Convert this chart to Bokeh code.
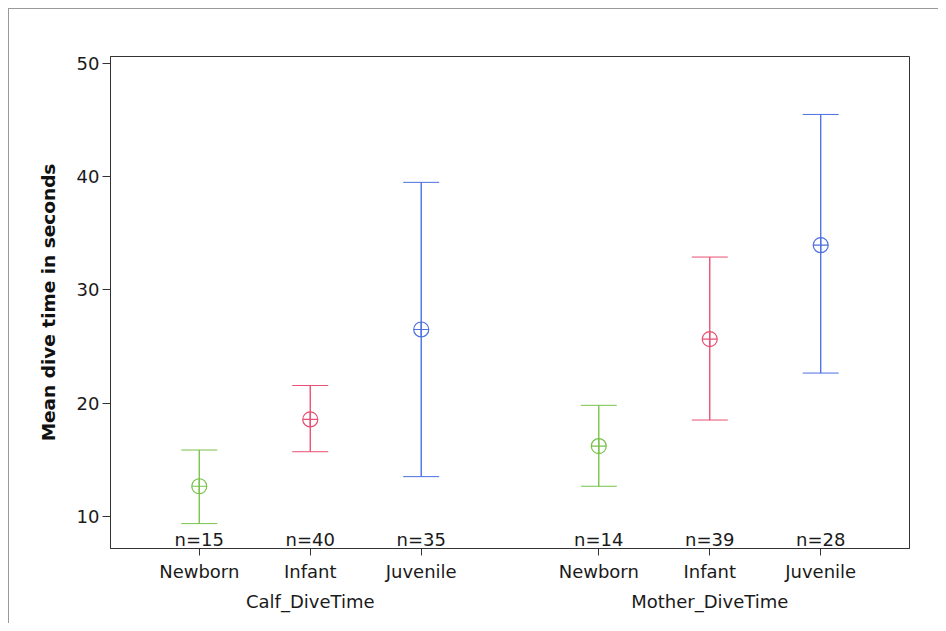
from bokeh.plotting import figure
from bokeh.models import FixedTicker, LinearAxis, Range1d, ColumnDataSource, Whisker
from bokeh.core.properties import value
from bokeh.embed import file_html
from bokeh.resources import INLINE

# ---- data ----
groups = ["Calf_DiveTime", "Mother_DiveTime"]
stages = ["Newborn", "Infant", "Juvenile", "Newborn", "Infant", "Juvenile"]
positions = [0, 1, 2, 3.6, 4.6, 5.6]
means = [12.65, 18.55, 26.5, 16.2, 25.65, 33.95]
lowers = [9.35, 15.7, 13.5, 12.65, 18.5, 22.65]
uppers = [15.85, 21.55, 39.5, 19.8, 32.9, 45.5]
counts = ["n=15", "n=40", "n=35", "n=14", "n=39", "n=28"]
colors = ["#78c24a", "#e84f72", "#4d6fe0", "#78c24a", "#e84f72", "#4d6fe0"]
group_centers = [1, 4.6]
y_ticks = [10, 20, 30, 40, 50]

FONT = "DejaVu Sans"

p = figure(width=930, height=615, output_backend="svg", toolbar_location=None,
           x_range=Range1d(-0.8, 6.4), y_range=Range1d(7.15, 50.62),
           min_border_left=101, min_border_right=30, min_border_top=47,
           min_border_bottom=76,
           styles={"border-left": "1px solid #999999", "border-top": "1px solid #999999",
                   "margin-left": "8px", "margin-top": "8px"})
p.grid.visible = False
p.outline_line_color = "#333333"
p.outline_line_width = 1
p.background_fill_color = "white"
p.border_fill_color = "white"

src = ColumnDataSource(dict(x=positions, mean=means, lo=lowers, hi=uppers,
                            n=counts, color=colors, ny=[7.15] * 6))

# vertical error lines
p.segment(x0="x", y0="lo", x1="x", y1="hi", source=src, line_color="color", line_width=1)
w = Whisker(base="x", lower="lo", upper="hi", source=src, dimension="height",
            line_color="color", line_width=1)
w.upper_head.size = 36
w.lower_head.size = 36
w.upper_head.line_color = "color"
w.lower_head.line_color = "color"
w.upper_head.line_width = 1
w.lower_head.line_width = 1
p.add_layout(w)
p.scatter(x="x", y="mean", source=src, marker="circle_cross", size=15,
          line_color="color", fill_color=None, line_width=1.2)

# n= labels
p.text(x="x", y="ny", text="n", source=src, text_align="center",
       text_baseline="bottom", text_font=value(FONT), text_font_size="18px",
       text_color="#1a1a1a", y_offset=1)

# y axis
p.yaxis.ticker = FixedTicker(ticks=y_ticks)
p.yaxis.minor_tick_line_color = None
p.yaxis.major_tick_out = 8
p.yaxis.major_tick_in = 0
p.yaxis.major_label_standoff = 3
p.yaxis.major_label_text_font = FONT
p.yaxis.major_label_text_font_size = "18px"
p.yaxis.major_label_text_color = "#1a1a1a"
p.yaxis.axis_label = "Mean dive time in seconds"
p.yaxis.axis_label_text_font = FONT
p.yaxis.axis_label_text_font_style = "bold"
p.yaxis.axis_label_text_font_size = "18.5px"
p.yaxis.axis_label_text_color = "#111111"
p.yaxis.axis_label_standoff = 15
p.yaxis.axis_line_color = "#333333"
p.yaxis.major_tick_line_color = "#333333"

# x axis
p.xaxis.ticker = FixedTicker(ticks=positions)
p.xaxis.major_label_overrides = {pos: s for pos, s in zip(positions, stages)}
p.xaxis.minor_tick_line_color = None
p.xaxis.major_tick_out = 7
p.xaxis.major_tick_in = 0
p.xaxis.major_label_standoff = 5
p.xaxis.major_label_text_font = FONT
p.xaxis.major_label_text_font_size = "18px"
p.xaxis.major_label_text_color = "#1a1a1a"
p.xaxis.axis_line_color = "#333333"
p.xaxis.major_tick_line_color = "#333333"

gax = LinearAxis(ticker=FixedTicker(ticks=group_centers),
                 major_label_overrides={c: g for c, g in zip(group_centers, groups)})
gax.axis_line_color = None
gax.major_tick_line_color = None
gax.minor_tick_line_color = None
gax.major_tick_out = 0
gax.major_tick_in = 0
gax.major_label_standoff = 6
gax.major_label_text_font = FONT
gax.major_label_text_font_size = "18px"
gax.major_label_text_color = "#1a1a1a"
p.add_layout(gax, "below")

open("out.html", "w").write(file_html(p, INLINE))
